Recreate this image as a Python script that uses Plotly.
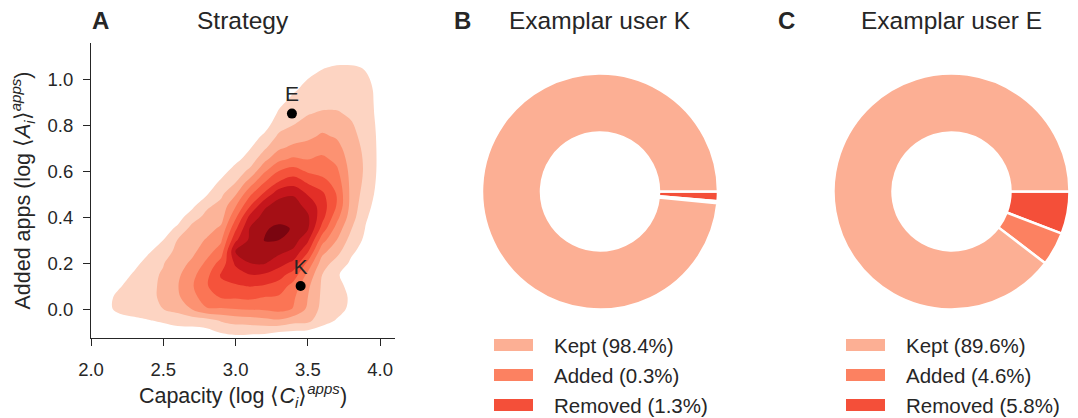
import plotly.graph_objects as go

# ---------------- Panel A: strategy density (capacity vs added apps) ----------------
capacity_grid = [2.1, 2.2, 2.3, 2.4, 2.5, 2.6, 2.7, 2.8, 2.9, 3.0,
                 3.1, 3.2, 3.3, 3.4, 3.5, 3.6, 3.7, 3.8, 3.9, 4.0]
added_grid = [-0.15, -0.10, -0.05, 0.00, 0.05, 0.10, 0.15, 0.20, 0.25, 0.30,
              0.35, 0.40, 0.45, 0.50, 0.55, 0.60, 0.65, 0.70, 0.75, 0.80,
              0.85, 0.90, 0.95, 1.00, 1.05, 1.10, 1.15]

# density (in contour-level units) for each capacity column, bottom to top along added_grid
density_columns = [
    [0, 0, 0.2, 0.6, 0.55, 0.3, 0.1, 0, 0, 0, 0, 0, 0, 0, 0, 0, 0, 0, 0, 0, 0, 0, 0, 0, 0, 0, 0],
    [0, 0, 0.4, 1.4, 1.4, 0.9, 0.5, 0.2, 0, 0, 0, 0, 0, 0, 0, 0, 0, 0, 0, 0, 0, 0, 0, 0, 0, 0, 0],
    [0, 0.1, 0.7, 1.6, 1.8, 1.6, 1.15, 0.7, 0.3, 0.1, 0, 0, 0, 0, 0, 0, 0, 0, 0, 0, 0, 0, 0, 0, 0, 0, 0],
    [0, 0.2, 0.95, 1.6, 1.8, 1.8, 1.75, 1.4, 0.9, 0.45, 0.15, 0, 0, 0, 0, 0, 0, 0, 0, 0, 0, 0, 0, 0, 0, 0, 0],
    [0, 0.45, 1.15, 2.0, 2.15, 2.15, 2.1, 1.95, 1.5, 1.0, 0.55, 0.2, 0, 0, 0, 0, 0, 0, 0, 0, 0, 0, 0, 0, 0, 0, 0],
    [0, 0.5, 1.45, 2.3, 2.85, 2.95, 2.8, 2.55, 2.3, 2.05, 1.2, 0.6, 0.25, 0, 0, 0, 0, 0, 0, 0, 0, 0, 0, 0, 0, 0, 0],
    [0, 0.55, 1.5, 3.05, 3.6, 3.9, 3.7, 3.2, 2.75, 2.5, 2.35, 1.55, 0.75, 0.3, 0.1, 0, 0, 0, 0, 0, 0, 0, 0, 0, 0, 0, 0],
    [0, 0.7, 1.6, 3.9, 4.6, 4.9, 4.7, 4.2, 3.6, 3.1, 2.6, 2.3, 1.8, 0.9, 0.4, 0.1, 0, 0, 0, 0, 0, 0, 0, 0, 0, 0, 0],
    [0, 1.1, 2.1, 3.9, 5.05, 5.8, 6.1, 5.4, 4.5, 3.85, 3.2, 2.6, 2.3, 1.8, 1.2, 0.6, 0.25, 0.05, 0, 0, 0, 0, 0, 0, 0, 0, 0],
    [0.3, 1.25, 2.4, 4.0, 5.1, 5.9, 6.5, 7.2, 8.05, 6.8, 5.8, 4.8, 3.9, 2.9, 2.0, 1.4, 0.75, 0.3, 0.05, 0, 0, 0, 0, 0, 0, 0, 0],
    [0.25, 1.2, 2.5, 4.1, 5.2, 6.05, 7.0, 8.0, 8.25, 8.2, 8.1, 7.3, 5.9, 4.8, 3.5, 2.25, 1.42, 0.95, 0.5, 0.15, 0, 0, 0, 0, 0, 0, 0],
    [0.25, 1.15, 2.7, 4.15, 4.95, 5.9, 6.9, 8.1, 8.6, 9.05, 8.85, 8.4, 7.8, 6.2, 5.0, 3.85, 2.75, 1.85, 1.2, 0.6, 0.2, 0, 0, 0, 0, 0, 0],
    [0.3, 1.0, 2.85, 4.35, 4.85, 5.6, 6.4, 7.4, 8.26, 9.0, 9.3, 8.5, 8.4, 7.7, 6.1, 5.0, 3.8, 2.85, 2.2, 1.6, 1.15, 0.75, 0.35, 0.1, 0, 0, 0],
    [0.35, 0.85, 2.4, 3.95, 4.15, 4.6, 5.6, 6.75, 7.8, 8.5, 8.9, 8.85, 8.4, 7.9, 6.6, 5.45, 4.2, 3.25, 2.55, 2.0, 1.6, 1.3, 0.9, 0.45, 0.15, 0, 0],
    [0.4, 0.75, 2.3, 2.8, 3.0, 3.2, 3.75, 4.75, 6.1, 7.2, 8.1, 8.15, 7.7, 6.9, 5.9, 4.85, 4.0, 3.4, 2.8, 2.3, 1.95, 1.65, 1.3, 1.0, 0.5, 0.15, 0],
    [0.3, 0.65, 1.3, 1.7, 1.8, 1.85, 2.0, 2.5, 3.3, 4.4, 5.6, 6.35, 6.5, 6.2, 5.4, 4.6, 4.25, 3.6, 3.15, 2.7, 2.1, 1.75, 1.45, 1.25, 0.95, 0.45, 0],
    [0.2, 0.5, 0.95, 1.25, 1.3, 1.2, 1.05, 1.6, 2.35, 3.0, 3.6, 4.35, 4.95, 4.95, 4.6, 4.2, 3.75, 3.35, 2.9, 2.5, 2.1, 1.75, 1.45, 1.3, 1.1, 0.6, 0],
    [0.1, 0.3, 0.6, 0.85, 0.9, 0.8, 0.8, 0.85, 1.15, 1.6, 2.05, 2.45, 2.65, 2.7, 2.7, 2.65, 2.55, 2.4, 2.25, 2.1, 1.85, 1.6, 1.4, 1.25, 1.1, 0.6, 0],
    [0, 0.1, 0.2, 0.35, 0.4, 0.4, 0.45, 0.55, 0.65, 0.8, 0.95, 1.1, 1.3, 1.55, 1.75, 1.85, 1.85, 1.8, 1.7, 1.55, 1.4, 1.3, 1.2, 1.1, 0.95, 0.4, 0],
    [0, 0.05, 0.1, 0.15, 0.2, 0.2, 0.25, 0.3, 0.35, 0.4, 0.45, 0.5, 0.55, 0.6, 0.65, 0.7, 0.72, 0.72, 0.72, 0.72, 0.72, 0.75, 0.8, 0.75, 0.6, 0.3, 0],
]

# fill colours of the nine density levels, lowest to highest
level_colors = ["#fdd4c2", "#fcb499", "#fc9272", "#fb7555", "#f5533b",
                "#e32f27", "#c5161c", "#a50f15", "#7a0510"]

# exemplar users
user_labels = ["E", "K"]
user_capacity = [3.39, 3.45]
user_added = [0.85, 0.10]

x_ticks = [2.0, 2.5, 3.0, 3.5, 4.0]
y_ticks = [0.0, 0.2, 0.4, 0.6, 0.8, 1.0]

# ---------------- Panels B and C: app turnover of the exemplar users ----------------
slice_names = ["Kept", "Added", "Removed"]
user_k_share = [98.4, 0.3, 1.3]
user_e_share = [89.6, 4.6, 5.8]
slice_colors = ["#fcaf94", "#fc8161", "#f44f39"]

FONT = "Liberation Sans, Arial, sans-serif"
INK = "#262626"
W, H = 1078, 418


def px(x):
    return x / W


def py(y):
    return 1 - y / H


# stepped colour scale over the level range [0, n]: each band holds one flat colour
n_levels = len(level_colors)
steps = ["white"] + level_colors
colorscale = []
edges = [0.0] + [(k + 0.75) / n_levels for k in range(n_levels)] + [1.0]
for k, color in enumerate(steps):
    lo, hi = edges[k], min(edges[k + 1], 1.0)
    colorscale.append([lo, color])
    colorscale.append([hi, color])

fig = go.Figure()

fig.add_trace(go.Contour(
    x=capacity_grid, y=added_grid, z=density_columns, transpose=True,
    autocontour=False,
    contours=dict(start=1, end=n_levels, size=1, coloring="fill", showlines=False),
    line=dict(width=0, smoothing=1.0),
    colorscale=colorscale, showscale=False, hoverinfo="skip",
))

fig.add_trace(go.Scatter(
    x=user_capacity, y=user_added, text=user_labels,
    mode="markers+text", textposition="top center",
    marker=dict(color="black", size=10),
    textfont=dict(family=FONT, size=21, color=INK),
    showlegend=False, hoverinfo="skip", cliponaxis=False,
))

axis_common = dict(
    showline=True, linecolor=INK, linewidth=1.25,
    ticks="outside", ticklen=7, tickwidth=1.25, tickcolor=INK,
    showgrid=False, zeroline=False, automargin=False,
    tickfont=dict(family=FONT, size=18.5, color=INK),
    tickformat=".1f",
)

fig.update_layout(
    xaxis=dict(
        domain=[px(91), px(395)], range=[2.0, 4.103], tickvals=x_ticks,
        ticklabelstandoff=8,
        title=dict(text="Capacity (log ⟨<i>C</i><sub><i>i</i></sub>⟩<sup><i>apps</i></sup>)",
                   font=dict(family=FONT, size=21.5, color=INK), standoff=6),
        **axis_common,
    ),
    yaxis=dict(
        domain=[py(338), py(43)], range=[-0.126, 1.157], tickvals=y_ticks,
        ticklabelstandoff=6,
        title=dict(text="Added apps (log ⟨<i>A</i><sub><i>i</i></sub>⟩<sup><i>apps</i></sup>)",
                   font=dict(family=FONT, size=21.5, color=INK), standoff=10),
        **axis_common,
    ),
)

# donuts: Kept sweeps counter-clockwise from 3 o'clock, so the small slices sit just below it
donut_r = 118
donut_cy = 191.5
for share, cx in [(user_k_share, 600), (user_e_share, 951.5)]:
    fig.add_trace(go.Pie(
        labels=[f"{n} ({v}%)" for n, v in zip(slice_names, share)][::-1],
        values=share[::-1], sort=False, direction="clockwise", rotation=90,
        hole=0.5, textinfo="none", hoverinfo="skip", showlegend=False,
        marker=dict(colors=slice_colors[::-1], line=dict(color="white", width=2.5)),
        domain=dict(x=[px(cx - donut_r), px(cx + donut_r)],
                    y=[py(donut_cy + donut_r), py(donut_cy - donut_r)]),
    ))

annotations = []
shapes = []

# panel letters and titles
for letter, lx, title, tx in [("A", 90, "Strategy", 243),
                              ("B", 452, "Examplar user K", 600),
                              ("C", 776, "Examplar user E", 951.5)]:
    annotations.append(dict(text=f"<b>{letter}</b>", x=px(lx), y=py(21), xref="paper", yref="paper",
                            xanchor="left", yanchor="middle", showarrow=False,
                            font=dict(family=FONT, size=24, color=INK)))
    annotations.append(dict(text=title, x=px(tx), y=py(21), xref="paper", yref="paper",
                            xanchor="center", yanchor="middle", showarrow=False,
                            font=dict(family=FONT, size=24.5, color=INK)))

# legends below the donuts
row_centers = [345, 375, 405]
for share, sx in [(user_k_share, 494), (user_e_share, 846)]:
    for name, value, color, rc in zip(slice_names, share, slice_colors, row_centers):
        shapes.append(dict(type="rect", xref="paper", yref="paper",
                           x0=px(sx), x1=px(sx + 39), y0=py(rc + 6), y1=py(rc - 6),
                           fillcolor=color, line=dict(width=0)))
        annotations.append(dict(text=f"{name} ({value}%)", x=px(sx + 58), y=py(rc),
                                xref="paper", yref="paper", xanchor="left", yanchor="middle",
                                showarrow=False, font=dict(family=FONT, size=20.5, color=INK)))

fig.update_layout(
    width=W, height=H, margin=dict(l=0, r=0, t=0, b=0),
    paper_bgcolor="white", plot_bgcolor="white",
    annotations=annotations, shapes=shapes, showlegend=False,
    font=dict(family=FONT, color=INK),
)

fig.write_html("out.html")
